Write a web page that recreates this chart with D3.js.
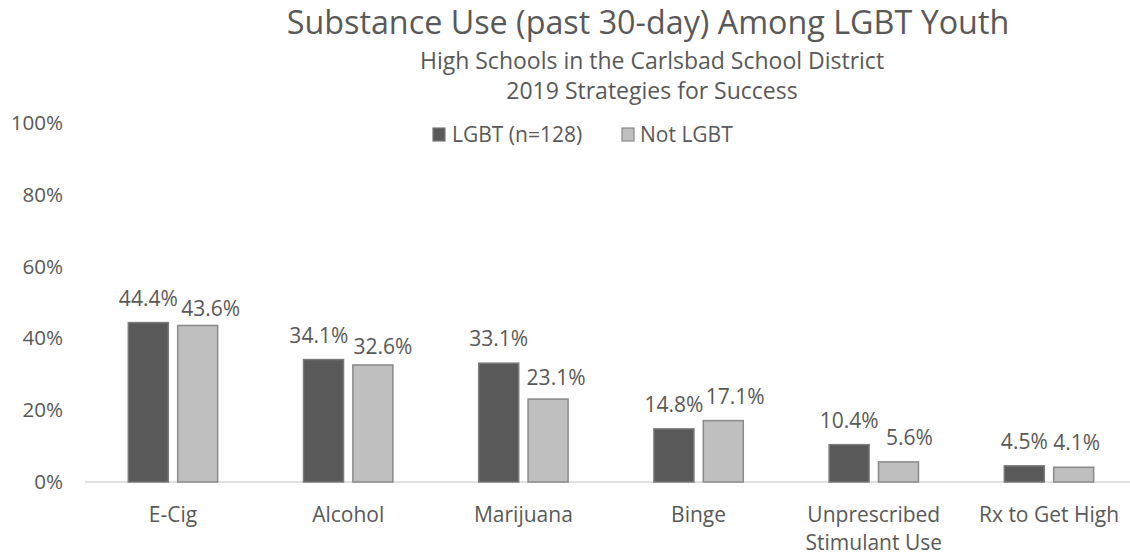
<!DOCTYPE html>
<html>
<head>
<meta charset="utf-8">
<script src="https://cdn.jsdelivr.net/npm/d3@7"></script>
<style>
  html, body { margin: 0; padding: 0; background: #ffffff; }
  svg { display: block; font-family: "Open Sans", "Noto Sans", sans-serif; }
</style>
</head>
<body>
<svg id="chart" width="1130" height="554"></svg>
<script>
// Chart data
const categories = ["E-Cig", "Alcohol", "Marijuana", "Binge", "Unprescribed Stimulant Use", "Rx to Get High"];
const seriesNames = ["LGBT (n=128)", "Not LGBT"];
const lgbtValues = [44.4, 34.1, 33.1, 14.8, 10.4, 4.5];
const notLgbtValues = [43.6, 32.6, 23.1, 17.1, 5.6, 4.1];
const yTicks = [0, 20, 40, 60, 80, 100];

const titleText = "Substance Use (past 30-day) Among LGBT Youth";
const subtitleLines = ["High Schools in the Carlsbad School District", "2019 Strategies for Success"];

// Category label line breaks
const categoryLines = {
  "Unprescribed Stimulant Use": ["Unprescribed", "Stimulant Use"]
};

const seriesValues = [lgbtValues, notLgbtValues];
const fills = ["#595959", "#bfbfbf"];
const strokes = ["#7a7a7a", "#8a8a8a"];
const textColor = "#595959";

// Label nudges so neighbouring value labels don't collide
const labelShift = [
  [[0, 0], [-4.7, 0], [0, 0], [0, 0], [0, 0], [0, 0]],
  [[13, 7.4], [10, 6.3], [8, 3], [12, 0], [11, 0.6], [3, 0]]
];

const svg = d3.select("#chart");

const x0 = d3.scaleBand()
  .domain(categories)
  .range([85.4, 1136.6])
  .paddingInner(0.49)
  .paddingOuter(0.245);

const x1 = d3.scaleBand()
  .domain(d3.range(seriesNames.length))
  .range([0, x0.bandwidth()])
  .paddingInner(0.19);

const y = d3.scaleLinear().domain([0, 100]).range([482, 123]);

// Title block
svg.append("text")
  .attr("x", 648).attr("y", 34)
  .attr("text-anchor", "middle")
  .attr("font-size", 32.3)
  .attr("fill", textColor)
  .text(titleText);

svg.selectAll("text.subtitle")
  .data(subtitleLines)
  .join("text")
  .attr("class", "subtitle")
  .attr("x", 652)
  .attr("y", (d, i) => 69 + i * 30)
  .attr("text-anchor", "middle")
  .attr("font-size", 23)
  .attr("fill", textColor)
  .text(d => d);

// Y axis labels (no axis line, no gridlines)
const yAxis = d3.axisLeft(y)
  .tickValues(yTicks)
  .tickFormat(d => d + "%")
  .tickSize(0)
  .tickPadding(0);

const yG = svg.append("g")
  .attr("transform", "translate(63,0)")
  .call(yAxis);
yG.select(".domain").remove();
yG.selectAll("text")
  .attr("font-size", 20.6)
  .attr("font-family", "'Open Sans', sans-serif")
  .attr("fill", textColor);

// Baseline
svg.append("line")
  .attr("x1", 85).attr("x2", 1130)
  .attr("y1", y(0)).attr("y2", y(0))
  .attr("stroke", "#d9d9d9")
  .attr("stroke-width", 1.5);

// Bars
const groups = svg.selectAll("g.cat")
  .data(categories)
  .join("g")
  .attr("class", "cat")
  .attr("transform", d => `translate(${x0(d)},0)`);

groups.selectAll("rect")
  .data((d, ci) => seriesValues.map((vals, si) => ({ si, ci, v: vals[ci] })))
  .join("rect")
  .attr("x", d => x1(d.si))
  .attr("y", d => y(d.v))
  .attr("width", x1.bandwidth())
  .attr("height", d => y(0) - y(d.v))
  .attr("fill", d => fills[d.si])
  .attr("stroke", d => strokes[d.si])
  .attr("stroke-width", 1.5);

// Value labels
groups.selectAll("text.val")
  .data((d, ci) => seriesValues.map((vals, si) => ({ si, ci, v: vals[ci] })))
  .join("text")
  .attr("class", "val")
  .attr("x", d => x1(d.si) + x1.bandwidth() / 2 + labelShift[d.si][d.ci][0])
  .attr("y", d => y(d.v) - 17 + labelShift[d.si][d.ci][1])
  .attr("text-anchor", "middle")
  .attr("font-size", 21)
  .attr("fill", textColor)
  .text(d => d.v.toFixed(1) + "%");

// Category labels
svg.selectAll("text.catlabel")
  .data(categories)
  .join("text")
  .attr("class", "catlabel")
  .attr("text-anchor", "middle")
  .attr("font-size", 21)
  .attr("fill", textColor)
  .attr("x", d => x0(d) + x0.bandwidth() / 2)
  .attr("y", 521.5)
  .each(function (d) {
    const lines = categoryLines[d] || [d];
    d3.select(this).selectAll("tspan")
      .data(lines)
      .join("tspan")
      .attr("x", x0(d) + x0.bandwidth() / 2)
      .attr("dy", (l, i) => i === 0 ? 0 : 28)
      .text(l => l);
  });

// Legend
const legendItems = [
  { name: seriesNames[0], sx: 433, tx: 452 },
  { name: seriesNames[1], sx: 622, tx: 640 }
];
const legend = svg.selectAll("g.legend")
  .data(legendItems)
  .join("g")
  .attr("class", "legend");
legend.append("rect")
  .attr("x", d => d.sx).attr("y", 128)
  .attr("width", 12).attr("height", 13)
  .attr("fill", (d, i) => fills[i])
  .attr("stroke", (d, i) => strokes[i])
  .attr("stroke-width", 1.2);
legend.append("text")
  .attr("x", d => d.tx).attr("y", 141.5)
  .attr("font-size", 21)
  .attr("fill", textColor)
  .text(d => d.name);
</script>
</body>
</html>
